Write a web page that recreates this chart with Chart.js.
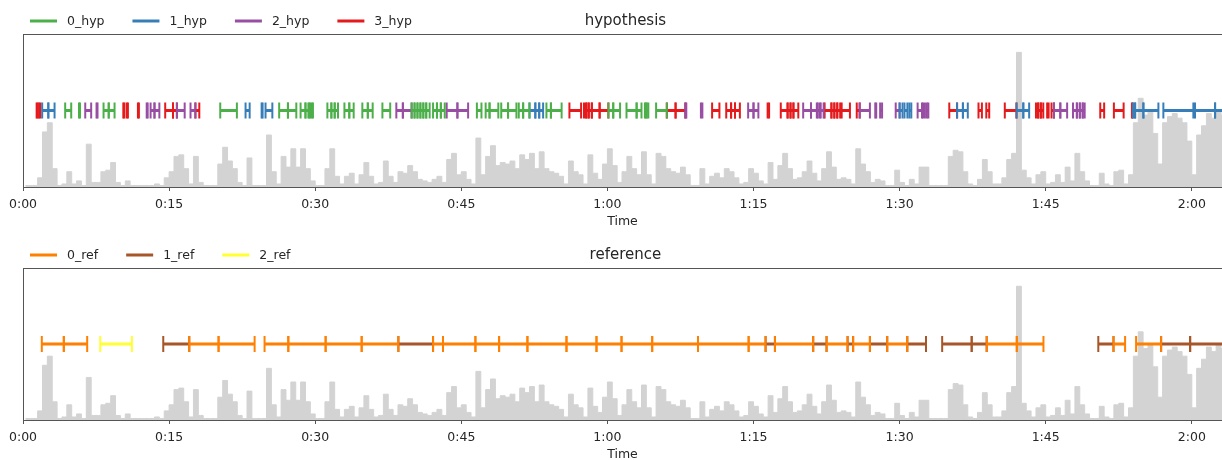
<!DOCTYPE html>
<html>
<head>
<meta charset="utf-8">
<script src="https://cdn.jsdelivr.net/npm/chart.js@4.4.0/dist/chart.umd.min.js"></script>
<style>
    html, body { margin: 0; padding: 0; background: #fff; overflow: hidden; width: 1222px; height: 460px; }
    canvas { position: absolute; left: 0; }
</style>
</head>
<body>
<canvas id="hypChart" width="1222" height="234" style="top:0;"></canvas>
<canvas id="refChart" width="1222" height="227" style="top:234px;"></canvas>
<script>
// time axis (seconds): full audio length and the part visible in the picture
const audioDuration = 123.7;
const timeMax = 123.1;
const tickStep = 15;

// waveform envelope, one value per 0.5 s bin (fraction of panel height)
const waveStep = 0.5;
const waveform = [
    0.01, 0.01, 0.01, 0.06, 0.36, 0.42, 0.12, 0.01, 0.02, 0.10,
    0.02, 0.04, 0.01, 0.28, 0.03, 0.03, 0.10, 0.11, 0.16, 0.03,
    0.01, 0.04, 0.01, 0.01, 0.01, 0.01, 0.01, 0.02, 0.01, 0.06,
    0.10, 0.20, 0.21, 0.12, 0.02, 0.20, 0.03, 0.01, 0.01, 0.01,
    0.15, 0.26, 0.17, 0.12, 0.03, 0.01, 0.19, 0.01, 0.01, 0.01,
    0.34, 0.10, 0.02, 0.20, 0.13, 0.25, 0.13, 0.25, 0.12, 0.04,
    0.01, 0.01, 0.12, 0.25, 0.07, 0.02, 0.07, 0.09, 0.02, 0.08,
    0.16, 0.07, 0.02, 0.03, 0.17, 0.07, 0.03, 0.10, 0.09, 0.14,
    0.10, 0.05, 0.04, 0.03, 0.05, 0.07, 0.03, 0.18, 0.22, 0.08,
    0.10, 0.05, 0.02, 0.32, 0.08, 0.20, 0.27, 0.14, 0.16, 0.15,
    0.17, 0.12, 0.21, 0.18, 0.22, 0.12, 0.23, 0.12, 0.10, 0.09,
    0.07, 0.02, 0.17, 0.10, 0.08, 0.02, 0.21, 0.09, 0.05, 0.15,
    0.25, 0.14, 0.03, 0.10, 0.20, 0.12, 0.08, 0.23, 0.08, 0.02,
    0.22, 0.20, 0.12, 0.10, 0.09, 0.13, 0.08, 0.01, 0.01, 0.12,
    0.02, 0.07, 0.09, 0.06, 0.12, 0.10, 0.06, 0.02, 0.03, 0.12,
    0.09, 0.04, 0.02, 0.16, 0.05, 0.14, 0.22, 0.12, 0.05, 0.06,
    0.10, 0.17, 0.09, 0.04, 0.12, 0.23, 0.13, 0.05, 0.06, 0.05,
    0.02, 0.25, 0.15, 0.10, 0.03, 0.05, 0.04, 0.01, 0.01, 0.11,
    0.03, 0.01, 0.05, 0.02, 0.13, 0.13, 0.01, 0.01, 0.01, 0.01,
    0.20, 0.24, 0.23, 0.10, 0.02, 0.01, 0.05, 0.18, 0.10, 0.02,
    0.02, 0.06, 0.18, 0.22, 0.88, 0.11, 0.06, 0.02, 0.08, 0.10,
    0.02, 0.03, 0.08, 0.03, 0.13, 0.04, 0.22, 0.10, 0.04, 0.01,
    0.01, 0.09, 0.02, 0.01, 0.10, 0.11, 0.02, 0.08, 0.42, 0.58,
    0.47, 0.50, 0.35, 0.15, 0.42, 0.46, 0.48, 0.45, 0.42, 0.30,
    0.08, 0.34, 0.40, 0.48, 0.45, 0.50, 0.47, 0.45
];

// hypothesis segments [start, end] in seconds
const hypLabels = ['0_hyp', '1_hyp', '2_hyp', '3_hyp'];
const hyp0 = [
    [4.33, 4.95], [5.75, 5.85], [8.27, 8.8], [8.8, 9.4], [20.25, 21.96], [26.3, 27.2], [27.2, 28.06],
    [28.5, 29.0], [29.0, 29.3], [29.4, 29.5], [29.65, 29.77], [31.25, 31.66], [31.66, 32.0], [32.0, 32.34],
    [33.0, 33.5], [33.5, 33.95], [34.84, 35.4], [35.4, 35.9], [36.9, 37.7], [39.9, 40.2], [40.2, 40.5],
    [40.5, 40.8], [40.8, 41.1], [41.1, 41.4], [41.4, 41.75], [42.1, 42.5], [42.5, 42.9], [42.9, 43.3],
    [46.6, 47.07], [47.5, 47.9], [47.9, 48.8], [49.1, 49.8], [49.8, 50.66], [50.9, 51.35], [51.35, 52.0],
    [53.74, 54.2], [54.2, 55.3], [60.1, 60.6], [60.6, 61.3], [61.96, 63.0], [63.0, 63.5], [63.85, 63.95],
    [64.05, 64.2], [65.0, 66.1]
];
const hyp1 = [
    [1.97, 2.6], [2.6, 3.24], [22.85, 23.27], [24.5, 24.6], [24.9, 25.6], [52.0, 52.6], [52.6, 53.0],
    [53.0, 53.4], [90.0, 90.3], [90.5, 90.8], [91.0, 91.2], [95.9, 96.5], [96.5, 97.0], [102.0, 102.7],
    [102.7, 103.3], [113.94, 114.18], [114.18, 115.03], [115.03, 116.57], [117.08, 120.16],
    [120.33, 122.39], [122.39, 123.7]
];
const hyp2 = [
    [6.39, 7.0], [7.55, 7.65], [12.7, 12.8], [13.1, 13.5], [13.5, 14.0], [15.8, 16.6], [17.2, 17.7],
    [38.33, 39.0], [39.0, 39.9], [43.5, 44.6], [44.6, 45.7], [68.0, 68.1], [69.6, 69.75], [74.45, 75.0],
    [75.0, 75.5], [80.1, 80.9], [80.9, 81.5], [81.6, 81.8], [81.9, 82.2], [85.9, 86.95], [87.5, 87.6],
    [88.0, 88.2], [89.6, 90.0], [91.85, 92.3], [92.4, 92.6], [92.8, 92.95], [105.85, 106.5], [106.5, 107.2],
    [107.8, 108.2], [108.2, 108.5], [108.5, 108.8], [108.8, 109.0]
];
const hyp3 = [
    [1.4, 1.5], [1.65, 1.78], [10.3, 10.4], [10.65, 10.77], [11.8, 11.9], [14.6, 15.4], [15.4, 15.8],
    [17.7, 18.1], [56.1, 57.3], [57.6, 57.8], [57.85, 58.05], [58.1, 58.4], [58.4, 59.2], [59.2, 60.1],
    [66.1, 67.0], [67.0, 68.0], [70.75, 71.5], [72.2, 72.7], [72.7, 73.1], [73.1, 73.6], [76.45, 76.6],
    [77.8, 78.5], [78.5, 78.8], [78.8, 79.1], [79.1, 79.6], [82.3, 83.0], [83.0, 83.3], [83.3, 83.6],
    [83.6, 83.9], [84.05, 84.9], [85.6, 85.9], [95.1, 95.9], [98.1, 98.45], [98.9, 99.2], [100.8, 102.0],
    [104.0, 104.2], [104.25, 104.5], [104.5, 104.75], [105.15, 105.3], [105.6, 105.85], [110.6, 111.0],
    [112.0, 113.0], [113.85, 113.94]
];

// reference segments
const refLabels = ['0_ref', '1_ref', '2_ref'];
const ref0 = [
    [1.93, 4.19], [4.19, 6.59], [17.07, 20.08], [20.08, 23.78], [24.8, 27.24], [27.24, 31.07],
    [31.07, 34.77], [34.77, 38.54], [42.1, 43.12], [43.12, 46.45], [46.45, 48.88], [48.88, 51.79],
    [51.79, 55.8], [55.8, 58.88], [58.88, 61.45], [61.45, 64.6], [64.6, 69.3], [69.3, 74.5], [74.5, 76.24],
    [77.2, 81.13], [82.5, 84.66], [85.23, 86.95], [88.73, 90.79], [98.94, 102.03], [102.03, 104.77],
    [111.96, 113.15], [114.28, 116.85]
];
const ref1 = [
    [14.4, 17.07], [38.54, 42.1], [76.24, 77.2], [81.13, 82.5], [84.66, 85.23], [86.95, 88.73],
    [90.79, 92.71], [94.37, 97.4], [97.4, 98.94], [110.4, 111.96], [116.85, 119.83], [119.83, 123.7]
];
const ref2 = [
    [7.93, 11.18]
];

const hypColors = ['#4daf4a', '#377eb8', '#984ea3', '#e41a1c'];
const refColors = ['#ff7f00', '#a65628', '#ffff33'];

const FONT = '"DejaVu Sans", "Liberation Sans", sans-serif';
const AXIS_COLOR = '#555';
const TEXT_COLOR = '#262626';

function mmss(v) {
    const m = Math.floor(v / 60);
    const s = Math.round(v % 60);
    return m + ':' + String(s).padStart(2, '0');
}

function segmentPoints(segs, level) {
    const pts = [];
    segs.forEach(([s, e]) => {
        pts.push({ x: s, y: level }, { x: e, y: level }, { x: e, y: null });
    });
    return pts;
}

// title and legend row above each panel
const headerPlugin = {
    id: 'header',
    afterDraw(chart, args, opts) {
        const ctx = chart.ctx;
        const y = 21;
        ctx.save();
        ctx.font = '12.5px ' + FONT;
        ctx.textBaseline = 'middle';
        ctx.textAlign = 'left';
        let x = 30;
        chart.data.datasets.filter(d => d.label !== 'waveform').forEach(d => {
            ctx.strokeStyle = d.borderColor;
            ctx.lineWidth = 3;
            ctx.beginPath();
            ctx.moveTo(x, y);
            ctx.lineTo(x + 27, y);
            ctx.stroke();
            ctx.fillStyle = TEXT_COLOR;
            ctx.fillText(d.label, x + 37, y + 1);
            x += 37 + ctx.measureText(d.label).width + 28;
        });
        // title is centred on the whole audio span, part of which runs past the picture
        ctx.font = '15px ' + FONT;
        ctx.textAlign = 'center';
        ctx.fillText(opts.title, chart.scales.x.getPixelForValue(audioDuration / 2), y);
        ctx.restore();
    }
};

function makePanel(canvasId, title, labels, segLists, colors, bottomPad) {
    const datasets = labels.map((label, i) => ({
        type: 'line',
        label: label,
        data: segmentPoints(segLists[i], 0.5),
        borderColor: colors[i],
        borderWidth: 3,
        borderCapStyle: 'butt',
        spanGaps: false,
        pointStyle: 'line',
        pointRotation: 90,
        pointRadius: 8,
        pointBorderWidth: 2,
        pointBorderColor: colors[i],
        pointBackgroundColor: colors[i],
        order: 1
    }));
    datasets.push({
        type: 'line',
        label: 'waveform',
        data: waveform.map((v, i) => ({ x: i * waveStep + waveStep / 2, y: v })),
        backgroundColor: '#d3d3d3',
        borderColor: '#d3d3d3',
        borderWidth: 1,
        fill: 'origin',
        stepped: 'middle',
        pointRadius: 0,
        order: 10
    });

    return new Chart(document.getElementById(canvasId), {
        type: 'line',
        data: { datasets: datasets },
        options: {
            responsive: false,
            animation: false,
            events: [],
            devicePixelRatio: 1,
            layout: { autoPadding: false, padding: { top: 34, left: 23, right: 0, bottom: bottomPad } },
            plugins: {
                legend: { display: false },
                tooltip: { enabled: false },
                header: { title: title }
            },
            scales: {
                x: {
                    type: 'linear',
                    position: 'bottom',
                    min: 0,
                    max: timeMax,
                    offset: false,
                    border: { display: true, color: AXIS_COLOR, width: 1 },
                    grid: { display: true, offset: false, drawOnChartArea: false, drawTicks: true, tickLength: 4, tickColor: AXIS_COLOR },
                    ticks: {
                        stepSize: tickStep,
                        includeBounds: false,
                        padding: 7,
                        color: TEXT_COLOR,
                        font: { family: FONT, size: 12.5, lineHeight: 1 },
                        maxRotation: 0,
                        autoSkip: false,
                        callback: v => mmss(v)
                    },
                    title: {
                        display: true,
                        text: 'Time',
                        color: TEXT_COLOR,
                        font: { family: FONT, size: 12.5, lineHeight: 1 },
                        padding: { top: -2, bottom: 0 }
                    }
                },
                xTop: {
                    type: 'linear',
                    position: 'top',
                    min: 0,
                    max: timeMax,
                    border: { display: true, color: AXIS_COLOR, width: 1 },
                    grid: { display: false, drawTicks: false },
                    ticks: { display: false }
                },
                y: {
                    type: 'linear',
                    min: 0,
                    max: 1,
                    border: { display: true, color: AXIS_COLOR, width: 1 },
                    grid: { display: false, drawTicks: false },
                    ticks: { display: false }
                }
            }
        },
        plugins: [headerPlugin]
    });
}

makePanel('hypChart', 'hypothesis', hypLabels, [hyp0, hyp1, hyp2, hyp3], hypColors, 6);
makePanel('refChart', 'reference', refLabels, [ref0, ref1, ref2], refColors, 0);
</script>
</body>
</html>
